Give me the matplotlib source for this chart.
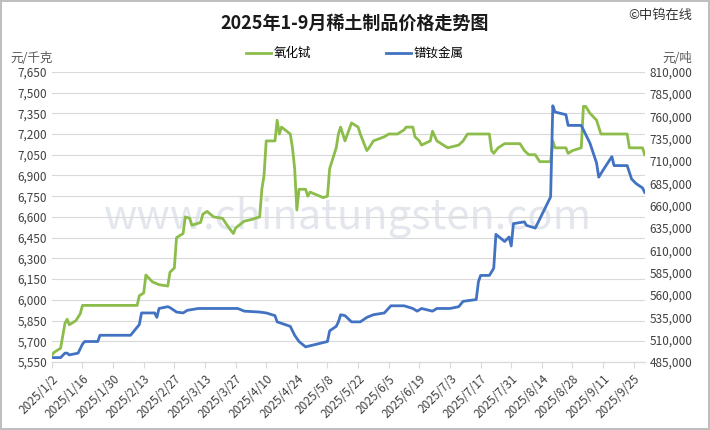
import matplotlib.pyplot as plt
import matplotlib.dates as mdates
import numpy as np
import pandas as pd

plt.rcParams['font.family'] = ['Noto Sans CJK SC', 'DejaVu Sans']

# 氧化铽 (元/千克)
green_dates = ["1/2", "1/3", "1/6", "1/8", "1/9", "1/10", "1/13", "1/15", "1/16", "2/10", "2/11", "2/13",
               "2/14", "2/17", "2/20", "2/24", "2/25", "2/27", "2/28", "3/3", "3/4", "3/6", "3/7", "3/11",
               "3/12", "3/14", "3/17", "3/21", "3/24", "3/26", "3/27", "3/31", "4/3", "4/7", "4/8", "4/9",
               "4/10", "4/14", "4/15", "4/16", "4/17", "4/21", "4/22", "4/23", "4/24", "4/25", "4/28", "4/29",
               "4/30", "5/6", "5/8", "5/9", "5/12", "5/13", "5/14", "5/15", "5/16", "5/19", "5/22", "5/23",
               "5/26", "5/27", "5/29", "6/3", "6/5", "6/9", "6/12", "6/13", "6/16", "6/17", "6/19", "6/20",
               "6/24", "6/25", "6/27", "6/30", "7/2", "7/7", "7/9", "7/11", "7/21", "7/22", "7/23", "7/25",
               "7/28", "7/31", "8/4", "8/6", "8/8", "8/11", "8/13", "8/18", "8/19", "8/20", "8/25", "8/26",
               "8/28", "9/1", "9/2", "9/3", "9/5", "9/8", "9/9", "9/10", "9/22", "9/23", "9/29", "9/30"]
green_vals = [5600, 5620, 5650, 5830, 5860, 5820, 5850, 5900, 5960, 5960, 6030, 6050,
              6180, 6130, 6110, 6100, 6200, 6230, 6450, 6480, 6600, 6590, 6540, 6560,
              6620, 6640, 6600, 6590, 6520, 6480, 6520, 6570, 6580, 6600, 6800, 6900,
              7150, 7150, 7300, 7200, 7250, 7200, 7100, 6950, 6650, 6800, 6800, 6750,
              6780, 6740, 6750, 6950, 7100, 7200, 7250, 7200, 7150, 7280, 7250, 7200,
              7080, 7100, 7150, 7180, 7200, 7200, 7230, 7250, 7250, 7180, 7150, 7120,
              7150, 7220, 7150, 7120, 7100, 7120, 7150, 7200, 7200, 7080, 7060, 7100,
              7130, 7130, 7130, 7080, 7050, 7050, 7000, 7000, 7150, 7100, 7100, 7060,
              7080, 7100, 7400, 7400, 7350, 7300, 7250, 7200, 7200, 7100, 7100, 7050]

# 镨钕金属 (元/吨)
blue_dates = ["1/2", "1/6", "1/8", "1/9", "1/10", "1/14", "1/15", "1/16", "1/17", "1/23", "1/24", "2/7",
              "2/11", "2/12", "2/18", "2/19", "2/20", "2/24", "2/25", "2/28", "3/3", "3/5", "3/10", "3/28",
              "3/31", "4/7", "4/10", "4/14", "4/15", "4/21", "4/23", "4/25", "4/28", "5/8", "5/9", "5/12",
              "5/13", "5/14", "5/16", "5/19", "5/23", "5/26", "5/29", "6/3", "6/6", "6/12", "6/16", "6/18",
              "6/20", "6/25", "6/27", "7/3", "7/7", "7/9", "7/15", "7/16", "7/17", "7/21", "7/23", "7/24",
              "7/28", "7/30", "7/31", "8/1", "8/6", "8/7", "8/11", "8/13", "8/15", "8/18", "8/19", "8/20",
              "8/25", "8/26", "9/1", "9/3", "9/5", "9/8", "9/9", "9/11", "9/15", "9/16", "9/22", "9/24",
              "9/26", "9/29", "9/30"]
blue_vals = [490000, 490000, 495000, 495000, 493000, 495000, 500000, 505000, 508000, 508000, 515000, 515000,
             527000, 540000, 540000, 535000, 545000, 547000, 546000, 541000, 540000, 543000, 545000, 545000,
             542000, 541000, 540000, 537000, 530000, 525000, 515000, 508000, 502000, 508000, 520000, 525000,
             530000, 538000, 537000, 530000, 530000, 535000, 538000, 540000, 548000, 548000, 545000, 542000,
             545000, 542000, 545000, 545000, 547000, 553000, 555000, 575000, 582000, 582000, 590000, 628000,
             620000, 625000, 615000, 640000, 642000, 638000, 635000, 645000, 655000, 670000, 772000, 765000,
             762000, 750000, 750000, 740000, 730000, 708000, 692000, 700000, 715000, 705000, 705000, 690000,
             685000, 680000, 675000]

gd = pd.to_datetime(["2025/" + d for d in green_dates])
bd = pd.to_datetime(["2025/" + d for d in blue_dates])

fig = plt.figure(figsize=(7.1, 4.3), dpi=100)
fig.patch.set_edgecolor("#bfbfbf")
fig.patch.set_linewidth(1.5)
ax = fig.add_axes([0.073, 0.158, 0.835, 0.675])
ax2 = ax.twinx()

ax.plot(gd, green_vals, color="#8cbd4a", lw=2, label="氧化铽")
ax2.plot(bd, blue_vals, color="#4273c2", lw=2, label="镨钕金属")

ax.set_ylim(5550, 7650)
ax.set_yticks(np.arange(5550, 7651, 150))
ax.yaxis.set_major_formatter(plt.FuncFormatter(lambda v, p: f"{int(v):,}"))
ax2.set_ylim(485000, 810000)
ax2.set_yticks(np.arange(485000, 810001, 25000))
ax2.yaxis.set_major_formatter(plt.FuncFormatter(lambda v, p: f"{int(v):,}"))

ticks = pd.date_range("2025-01-02", "2025-09-25", freq="14D")
ax.set_xticks(ticks)
ax.set_xticklabels([f"{t.year}/{t.month}/{t.day}" for t in ticks], rotation=45, ha="right",
                   rotation_mode="anchor")
ax.set_xlim(pd.Timestamp("2025-01-02"), pd.Timestamp("2025-09-30"))

ax.grid(axis="y", color="#d9d9d9", lw=0.8)
ax.set_axisbelow(True)
for a in (ax, ax2):
    for s in ("top", "left", "right"):
        a.spines[s].set_visible(False)
    a.spines["bottom"].set_color("#d9d9d9")
    a.tick_params(length=0, labelsize=8.5, colors="#404040")
ax.tick_params(axis="x", length=4, color="#d9d9d9")

fig.text(0.5, 0.945, "2025年1-9月稀土制品价格走势图", ha="center", va="center",
         fontsize=13, fontweight="bold", color="#1a1a1a")
fig.text(0.975, 0.965, "©中钨在线", ha="right", va="center", fontsize=9.5, color="#333333")
fig.text(0.015, 0.865, "元/千克", ha="left", va="center", fontsize=9, color="#595959")
fig.text(0.975, 0.865, "元/吨", ha="right", va="center", fontsize=9, color="#595959")
ax.text(0.5, 0.5, "www.chinatungsten.com", transform=ax.transAxes, ha="center", va="center",
        fontsize=30, color="#c8d0dc", alpha=0.5, zorder=0)

h1, l1 = ax.get_legend_handles_labels()
h2, l2 = ax2.get_legend_handles_labels()
fig.legend(h1 + h2, l1 + l2, loc="center", bbox_to_anchor=(0.5, 0.875), ncol=2, frameon=False,
           fontsize=9, columnspacing=6, handlelength=2, handletextpad=0.2)

fig.savefig("out.png", dpi=100)
